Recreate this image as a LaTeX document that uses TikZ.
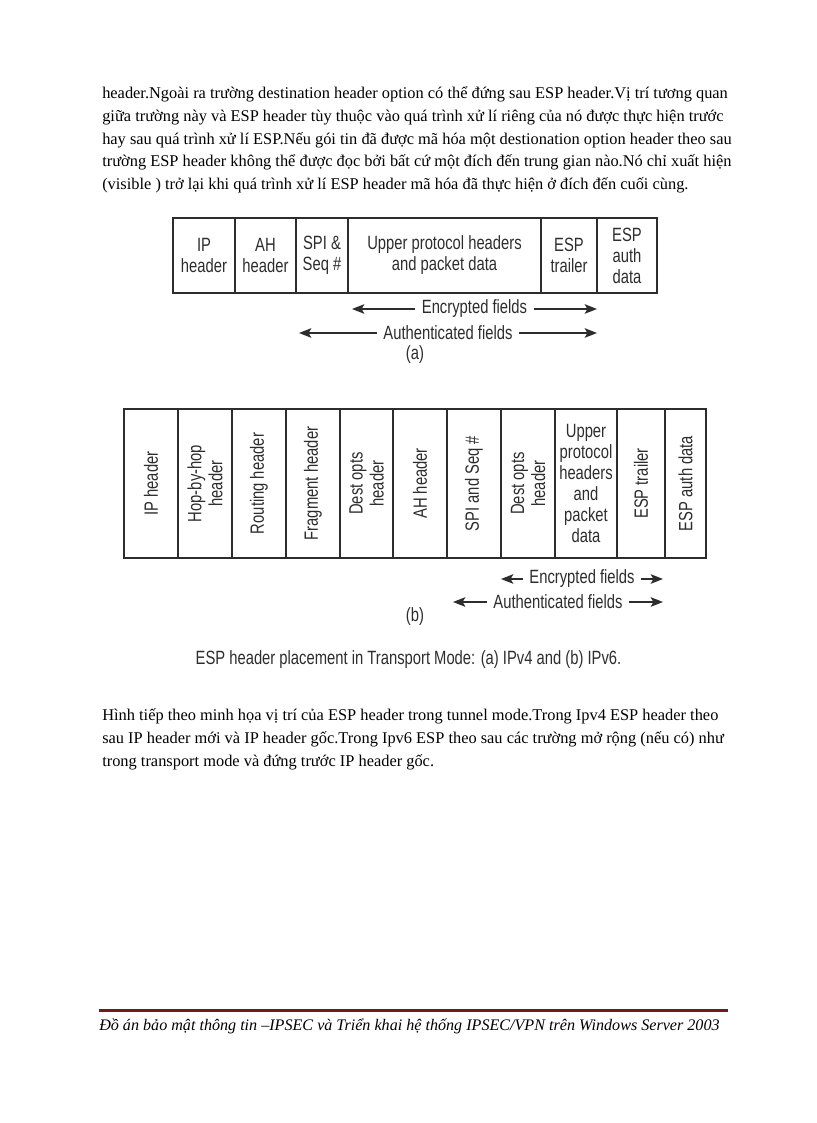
\documentclass[tikz,border=0pt]{standalone}
\usepackage{fontspec}
\usetikzlibrary{arrows.meta}
\setmainfont{Liberation Serif}
\newfontfamily\figfont[FakeStretch=0.77]{Liberation Sans}
\definecolor{figgray}{RGB}{45,45,45}
\definecolor{footred}{RGB}{115,25,25}

\begin{document}
\begin{tikzpicture}[
    x=0.7292pt,
    y=-0.7292pt,
    >={Stealth[length=9pt,width=7pt,inset=2pt]},
    body/.style={
      anchor=base west,
      inner sep=0pt,
      font=\fontsize{11.95}{15}\selectfont
    },
    cell/.style={
      draw=figgray,
      line width=1.1pt,
      inner sep=0pt,
      align=center,
      text=figgray,
      font=\figfont\fontsize{14}{15.3}\selectfont
    },
    field/.style={
      text=figgray,
      align=center,
      inner sep=0pt,
      font=\figfont\fontsize{14}{15.3}\selectfont
    },
    span/.style={
      <->,
      line width=1.1pt,
      draw=figgray
    },
    gap/.style={
      fill=white,
      inner xsep=5pt,
      inner ysep=1pt,
      text=figgray,
      font=\figfont\fontsize{14}{15.3}\selectfont
    }
  ]
    \useasboundingbox (0,0) rectangle (816,1123);

    % text above the figure
    \foreach \n/\yb/\t in {
        1/99/{header.Ngoài ra trường destination header option có thể đứng sau ESP header.Vị trí tương quan},
        2/121.7/{giữa trường này và ESP header tùy thuộc vào quá trình xử lí riêng của nó được thực hiện trước},
        3/144.4/{hay sau quá trình xử lí ESP.Nếu gói tin đã được mã hóa một destionation option header theo sau},
        4/167/{trường ESP header không thể được đọc bởi bất cứ một đích đến trung gian nào.Nó chỉ xuất hiện},
        5/189.7/{(visible ) trở lại khi quá trình xử lí ESP header mã hóa đã thực hiện ở đích đến cuối cùng.}}
      \node[body] (top\n) at (102,\yb) {\t};

    % (a) IPv4
    \foreach \xa/\xb/\t/\n in {
        173/235/{IP\\header}/ip,
        235/296/{AH\\header}/ah,
        296/348/{SPI \&\\Seq \#}/spi,
        348/541/{Upper protocol headers\\and packet data}/up,
        541/597/{ESP\\trailer}/trl,
        597/657/{ESP\\auth\\data}/auth}
      \node[cell,minimum width={(\xb-\xa)*0.7292pt},minimum height={75*0.7292pt}]
        (a\n) at ({(\xa+\xb)/2},255.5) {\t};

    \coordinate (aencL) at (352,309);
    \coordinate (aencR) at (597,309);
    \coordinate (aautL) at (299,333);
    \coordinate (aautR) at (597,333);
    \draw[span] (aencL) -- node[gap] {Encrypted fields} (aencR);
    \draw[span] (aautL) -- node[gap] {Authenticated fields} (aautR);
    \node[field] (alabel) at (415,355) {(a)};

    % (b) IPv6
    \foreach \xa/\xb/\t/\rot/\n in {
        124/178/{IP header}/90/1,
        178/232/{Hop-by-hop\\header}/90/2,
        232/286/{Routing header}/90/3,
        286/340/{Fragment header}/90/4,
        340/393/{Dest opts\\header}/90/5,
        393/447/{AH header}/90/6,
        447/501/{SPI and Seq \#}/90/7,
        501/555/{Dest opts\\header}/90/8,
        555/617/{Upper\\protocol\\headers\\and\\packet\\data}/0/9,
        617/665/{ESP trailer}/90/10,
        665/706/{ESP auth data}/90/11}
      {
        \node[cell,minimum width={(\xb-\xa)*0.7292pt},minimum height={149*0.7292pt}]
          (b\n) at ({(\xa+\xb)/2},483.5) {};
        \node[field,rotate=\rot] (bt\n) at (b\n) {\t};
      }

    \coordinate (bencL) at (501,579);
    \coordinate (bencR) at (663,579);
    \coordinate (bautL) at (453,602);
    \coordinate (bautR) at (663,602);
    \draw[span] (bencL) -- node[gap] {Encrypted fields} (bencR);
    \draw[span] (bautL) -- node[gap] {Authenticated fields} (bautR);
    \node[field] (blabel) at (415,617) {(b)};

    \node[field] (caption) at (408.5,660)
      {ESP header placement in Transport Mode: (a) IPv4 and (b) IPv6.};

    % text below the figure
    \foreach \n/\yb/\t in {
        1/720/{Hình tiếp theo minh họa vị trí của ESP header trong tunnel mode.Trong Ipv4 ESP header theo},
        2/743/{sau IP header mới và IP header gốc.Trong Ipv6 ESP theo sau các trường mở rộng (nếu có) như},
        3/766/{trong transport mode và đứng trước IP header gốc.}}
      \node[body] (bot\n) at (102,\yb) {\t};

    % footer
    \draw[footred,line width=2.2pt] (99,1010) -- (728,1010);
    \node[body,font=\itshape\fontsize{11.75}{15}\selectfont] (foot) at (99,1030)
      {Đồ án bảo mật thông tin –IPSEC và Triển khai hệ thống IPSEC/VPN trên Windows Server 2003};
\end{tikzpicture}
\end{document}
